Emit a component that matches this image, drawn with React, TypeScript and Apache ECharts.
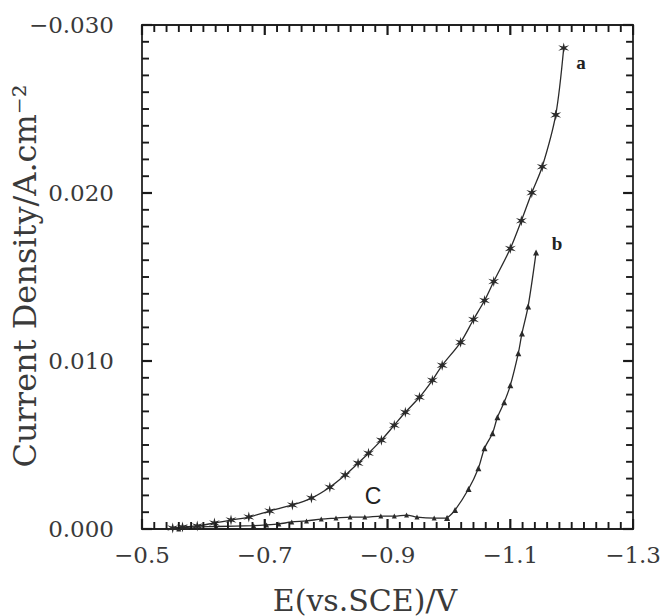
import React, { useEffect, useRef } from "react";
import * as echarts from "echarts";

// Curve a (asterisk markers): potential E / V and current density / A.cm^-2
const aE = [-0.55, -0.566, -0.59, -0.618, -0.645, -0.674, -0.708, -0.745, -0.776, -0.806, -0.831, -0.852, -0.869, -0.89, -0.911, -0.929, -0.952, -0.973, -0.989, -1.019, -1.04, -1.058, -1.073, -1.1, -1.118, -1.135, -1.152, -1.174, -1.187];
const aJ = [-0.00006, -0.00012, -0.00018, -0.00036, -0.00053, -0.00071, -0.00107, -0.00143, -0.00184, -0.00249, -0.00321, -0.00392, -0.00451, -0.00529, -0.00618, -0.00695, -0.00784, -0.00885, -0.00974, -0.01111, -0.01247, -0.0136, -0.01473, -0.01669, -0.01835, -0.02002, -0.02156, -0.02465, -0.02863];

// Curve c (plateau, triangle markers)
const cE = [-0.56, -0.573, -0.621, -0.682, -0.703, -0.723, -0.744, -0.768, -0.792, -0.816, -0.839, -0.863, -0.889, -0.911, -0.931, -0.948, -0.976, -0.997];
const cJ = [0, -0.0001, -0.00015, -0.0002, -0.00024, -0.0003, -0.00042, -0.00048, -0.00059, -0.00065, -0.00071, -0.00071, -0.00077, -0.00077, -0.00083, -0.00071, -0.00065, -0.00065];

// Curve b (rising branch, triangle markers)
const bE = [-0.997, -1.01, -1.032, -1.048, -1.058, -1.071, -1.079, -1.09, -1.1, -1.113, -1.119, -1.129, -1.142];
const bJ = [-0.00065, -0.00113, -0.00238, -0.00362, -0.00481, -0.0057, -0.00665, -0.00754, -0.00855, -0.01046, -0.01164, -0.01325, -0.01646];

// Tick labels
const xTickValues = [-0.5, -0.7, -0.9, -1.1, -1.3];
const xTickLabels = ["\u22120.5", "\u22120.7", "\u22120.9", "\u22121.1", "\u22121.3"];
const yTickValues = [0, -0.01, -0.02, -0.03];
const yTickLabels = ["0.000", "0.010", "0.020", "\u22120.030"];
const xMinorStep = 0.02;
const yMinorStep = 0.001;

const xTitle = "E(vs.SCE)/V";
const yTitle = "Current Density/A.cm\u207B\u00B2";

function starPath(): string {
  const pts: string[] = [];
  for (let i = 0; i < 12; i++) {
    const r = i % 2 === 0 ? 10 : 3.2;
    const ang = (Math.PI / 6) * i - Math.PI / 2;
    pts.push(`${(r * Math.cos(ang)).toFixed(2)},${(r * Math.sin(ang)).toFixed(2)}`);
  }
  return "path://M" + pts.join("L") + "Z";
}

export default function App() {
  const ref = useRef<HTMLDivElement>(null);
  useEffect(() => {
    if (!ref.current) return;
    const chart = echarts.init(ref.current, null, { renderer: "svg" });
    const font = "DejaVu Serif";
    const axisColor = "#222";
    const X_MIN = -1.3, X_MAX = -0.5, Y_MIN = -0.03, Y_MAX = 0;

    // tick definitions: [x, y, isMajor, kind(0 = x tick, 1 = y tick)]
    const tickData: number[][] = [];
    const nx = Math.round((X_MAX - X_MIN) / xMinorStep);
    for (let i = 0; i <= nx; i++) {
      const v = +(X_MIN + i * xMinorStep).toFixed(4);
      const major = xTickValues.some((t) => Math.abs(t - v) < 1e-6) ? 1 : 0;
      tickData.push([v, Y_MAX, major, 0]);
    }
    const ny = Math.round((Y_MAX - Y_MIN) / yMinorStep);
    for (let i = 0; i <= ny; i++) {
      const v = +(Y_MIN + i * yMinorStep).toFixed(5);
      const major = yTickValues.some((t) => Math.abs(t - v) < 1e-7) ? 1 : 0;
      tickData.push([X_MAX, v, major, 1]);
    }

    const xBase = (pos: string) => ({
      type: "value" as const,
      min: X_MIN,
      max: X_MAX,
      inverse: true,
      position: pos,
      splitLine: { show: false },
      axisTick: { show: false },
      axisLine: { show: true, onZero: false, lineStyle: { color: axisColor, width: 1.8 } },
    });
    const yBase = (pos: string) => ({
      type: "value" as const,
      min: Y_MIN,
      max: Y_MAX,
      inverse: true,
      position: pos,
      splitLine: { show: false },
      axisTick: { show: false },
      axisLine: { show: true, onZero: false, lineStyle: { color: axisColor, width: 1.8 } },
    });

    const lineStyle = { color: "#2a2a2a", width: 1.3 };

    chart.setOption({
      animation: false,
      backgroundColor: "#ffffff",
      grid: { left: 142, right: 26, top: 25, bottom: 87, show: false },
      xAxis: [
        {
          ...xBase("bottom"),
          axisLabel: {
            show: true,
            customValues: xTickValues,
            margin: 14,
            fontFamily: font,
            fontSize: 23,
            color: "#3a3a3a",
            formatter: (v: number) => {
              const i = xTickValues.findIndex((t) => Math.abs(t - v) < 1e-6);
              return i >= 0 ? xTickLabels[i] : "";
            },
          },
        },
        { ...xBase("top"), axisLabel: { show: false } },
      ],
      yAxis: [
        {
          ...yBase("left"),
          axisLabel: {
            show: true,
            customValues: yTickValues,
            margin: 28,
            fontFamily: font,
            fontSize: 23,
            color: "#3a3a3a",
            formatter: (v: number) => {
              const i = yTickValues.findIndex((t) => Math.abs(t - v) < 1e-9);
              return i >= 0 ? yTickLabels[i] : "";
            },
          },
        },
        { ...yBase("right"), axisLabel: { show: false } },
      ],
      series: [
        {
          name: "ticks",
          type: "custom",
          xAxisIndex: 0,
          yAxisIndex: 0,
          silent: true,
          clip: false,
          z: 5,
          data: tickData,
          renderItem: (_params: any, api: any) => {
            const xv = api.value(0);
            const yv = api.value(1);
            const major = api.value(2) === 1;
            const kind = api.value(3);
            const len = major ? 10 : 7;
            const style = { stroke: "#1a1a1a", lineWidth: major ? 2.2 : 1.9, fill: null };
            if (kind === 0) {
              const b = api.coord([xv, Y_MAX]);
              const t = api.coord([xv, Y_MIN]);
              return {
                type: "group",
                children: [
                  { type: "line", shape: { x1: b[0], y1: b[1], x2: b[0], y2: b[1] - len }, style },
                  { type: "line", shape: { x1: t[0], y1: t[1], x2: t[0], y2: t[1] + len }, style },
                ],
              };
            }
            const l = api.coord([X_MAX, yv]);
            const r = api.coord([X_MIN, yv]);
            return {
              type: "group",
              children: [
                { type: "line", shape: { x1: l[0], y1: l[1], x2: l[0] + len, y2: l[1] }, style },
                { type: "line", shape: { x1: r[0], y1: r[1], x2: r[0] - len, y2: r[1] }, style },
              ],
            };
          },
        },
        {
          name: "a",
          type: "line",
          xAxisIndex: 0,
          yAxisIndex: 0,
          data: aE.map((e, i) => [e, aJ[i]]),
          smooth: 0.3,
          lineStyle,
          symbol: starPath(),
          symbolSize: 11,
          itemStyle: { color: "#2a2a2a" },
        },
        {
          name: "c",
          type: "line",
          xAxisIndex: 0,
          yAxisIndex: 0,
          data: cE.map((e, i) => [e, cJ[i]]),
          smooth: 0.3,
          lineStyle,
          symbol: "triangle",
          symbolSize: 5,
          itemStyle: { color: "#2a2a2a" },
        },
        {
          name: "b",
          type: "line",
          xAxisIndex: 0,
          yAxisIndex: 0,
          data: bE.map((e, i) => [e, bJ[i]]),
          smooth: 0.3,
          lineStyle,
          symbol: "triangle",
          symbolSize: 6,
          itemStyle: { color: "#2a2a2a" },
        },
      ],
      graphic: [
        {
          type: "text",
          x: 365,
          y: 600,
          style: {
            text: xTitle,
            fontFamily: font,
            fontSize: 30,
            fill: "#3a3a3a",
            align: "center",
            verticalAlign: "middle",
          },
        },
        {
          type: "text",
          x: 25,
          y: 276,
          rotation: Math.PI / 2,
          style: {
            text: yTitle,
            fontFamily: font,
            fontSize: 32,
            fill: "#3a3a3a",
            align: "center",
            verticalAlign: "middle",
          },
        },
        {
          type: "text",
          x: 581,
          y: 62,
          style: { text: "a", fontFamily: "Liberation Serif", fontWeight: "bold", fontSize: 19, fill: "#222", align: "center", verticalAlign: "middle" },
        },
        {
          type: "text",
          x: 557,
          y: 243,
          style: { text: "b", fontFamily: "Liberation Serif", fontWeight: "bold", fontSize: 19, fill: "#222", align: "center", verticalAlign: "middle" },
        },
        {
          type: "text",
          x: 373,
          y: 496,
          style: { text: "C", fontFamily: "Liberation Sans", fontSize: 23, fill: "#222", align: "center", verticalAlign: "middle" },
        },
      ],
    });
    return () => chart.dispose();
  }, []);

  return (
    <div
      ref={ref}
      style={{ position: "fixed", left: 0, top: 0, width: 664, height: 616, background: "#fff" }}
    />
  );
}
